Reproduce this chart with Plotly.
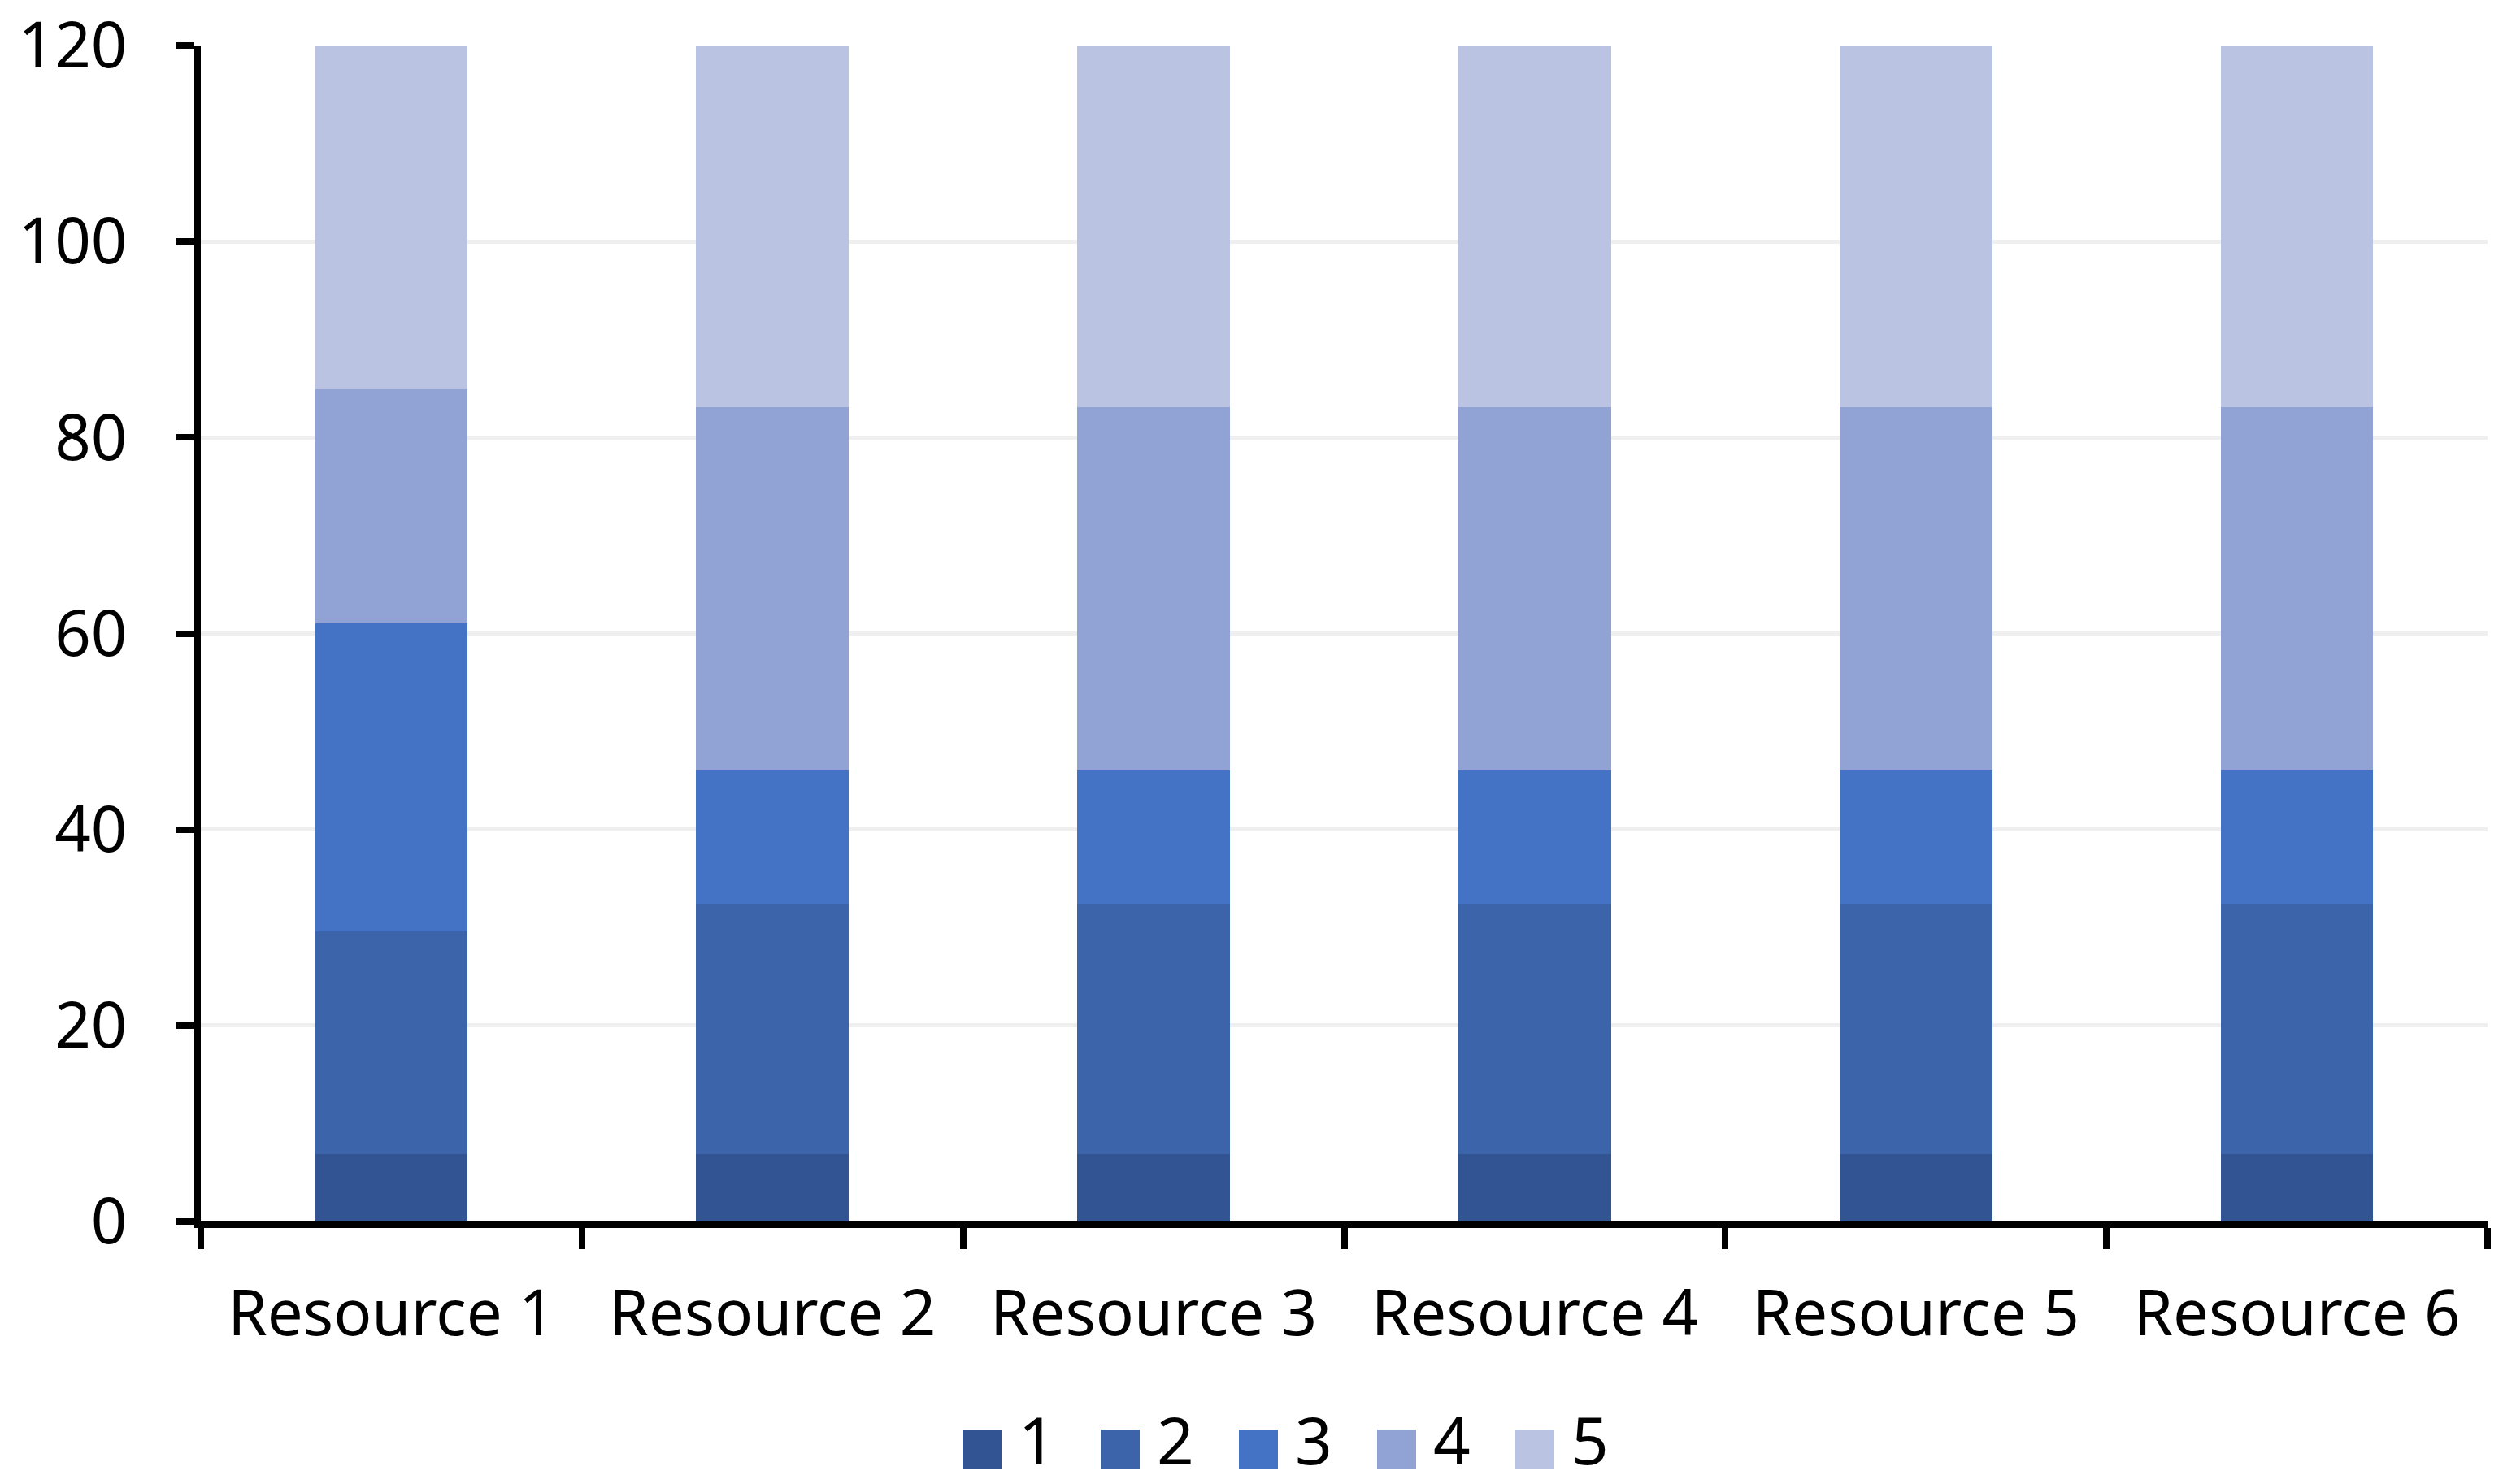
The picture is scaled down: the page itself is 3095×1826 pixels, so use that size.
import plotly.graph_objects as go

resources = ["Resource 1", "Resource 2", "Resource 3", "Resource 4", "Resource 5", "Resource 6"]
series_names = ["1", "2", "3", "4", "5"]

s1 = [6.9, 6.9, 6.9, 6.9, 6.9, 6.9]
s2 = [22.7, 25.5, 25.5, 25.5, 25.5, 25.5]
s3 = [31.4, 13.6, 13.6, 13.6, 13.6, 13.6]
s4 = [23.9, 37.1, 37.1, 37.1, 37.1, 37.1]
s5 = [36.0, 37.5, 37.5, 37.5, 37.5, 37.5]

colors = ["#325492", "#3c64aa", "#4472c4", "#91a3d4", "#bac4e2"]
font = "Noto Sans"

W, H = 3095, 1826
L, R, T, B = 239, 43, 48, 331


def px_x(px):
    return (px - L) / (W - L - R)


def px_y(py):
    return (H - B - py) / (H - T - B)


fig = go.Figure()
for name, vals, col in zip(series_names, [s1, s2, s3, s4, s5], colors):
    fig.add_trace(go.Bar(x=resources, y=vals, name=name, marker_color=col,
                         marker_line_width=0, width=0.4))

# legend built by hand: big square swatches like the Excel original
for i, (name, col) in enumerate(zip(series_names, colors)):
    x0 = 1176 + 170 * i
    fig.add_shape(type="rect", xref="paper", yref="paper",
                  x0=px_x(x0), x1=px_x(x0 + 48), y0=px_y(1800), y1=px_y(1751),
                  fillcolor=col, line_width=0)
    fig.add_annotation(text=name, xref="paper", yref="paper", x=px_x(x0 + 68),
                       y=px_y(1762), xanchor="left", yanchor="middle", showarrow=False,
                       borderpad=0, font=dict(family=font, size=80, color="black"))

fig.update_layout(
    barmode="stack",
    width=W, height=H,
    margin=dict(l=L, r=R, t=T, b=B),
    plot_bgcolor="white", paper_bgcolor="white",
    showlegend=False,
    font=dict(family=font, size=78, color="black"),
)
fig.update_yaxes(range=[0, 120], dtick=20, showgrid=True, gridcolor="#efefef", gridwidth=5,
                 showline=True, linecolor="black", linewidth=8, automargin=False,
                 ticklabeloverflow="allow",
                 ticks="outside", ticklen=22, tickwidth=8, tickcolor="black",
                 ticklabelstandoff=45, zeroline=False)
fig.update_xaxes(showline=True, linecolor="black", linewidth=8, automargin=False,
                 ticks="outside", tickson="boundaries", ticklen=26, tickwidth=8,
                 tickcolor="black", ticklabelstandoff=38)

fig.write_html("out.html")
